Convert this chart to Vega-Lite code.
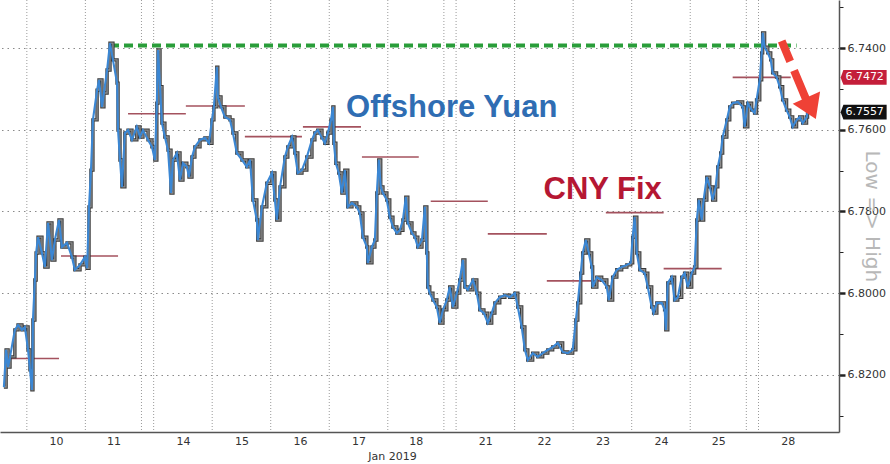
{
  "$schema": "https://vega.github.io/schema/vega-lite/v6.json",
  "width": 839,
  "height": 432,
  "autosize": {"type": "none"},
  "padding": {"left": 0, "top": 0, "right": 51, "bottom": 32},
  "background": "white",
  "config": {"view": {"stroke": null}, "font": "DejaVu Sans"},
  "datasets": {
    "sessions": [
      {"hour": 11}, {"hour": 35}, {"hour": 58}, {"hour": 63}, {"hour": 87}, {"hour": 111},
      {"hour": 135}, {"hour": 159}, {"hour": 182}, {"hour": 187}, {"hour": 211}, {"hour": 235},
      {"hour": 259}, {"hour": 283}, {"hour": 306}, {"hour": 311}
    ],
    "fix": [
      {"hour": 2.0, "hour_end": 24.2, "rate": 6.8160},
      {"hour": 25.0, "hour_end": 48.4, "rate": 6.7909},
      {"hour": 52.5, "hour_end": 76.2, "rate": 6.7561},
      {"hour": 76.2, "hour_end": 100.4, "rate": 6.7542},
      {"hour": 100.4, "hour_end": 123.8, "rate": 6.7617},
      {"hour": 124.2, "hour_end": 148.0, "rate": 6.7593},
      {"hour": 148.4, "hour_end": 171.7, "rate": 6.7667},
      {"hour": 176.6, "hour_end": 200.0, "rate": 6.7775},
      {"hour": 200.0, "hour_end": 224.2, "rate": 6.7855},
      {"hour": 224.2, "hour_end": 248.0, "rate": 6.7970},
      {"hour": 248.4, "hour_end": 272.1, "rate": 6.7803},
      {"hour": 272.1, "hour_end": 295.9, "rate": 6.7940},
      {"hour": 300.4, "hour_end": 324.2, "rate": 6.7472}
    ],
    "ceiling": [{"hour": 45.1, "hour_end": 326.6, "rate": 6.7394}],
    "cnh": [
      {"hour": 1.6, "rate": 6.8230}, {"hour": 2.5, "rate": 6.8139}, {"hour": 3.3, "rate": 6.8181},
      {"hour": 4.1, "rate": 6.8156}, {"hour": 6.1, "rate": 6.8090}, {"hour": 7.4, "rate": 6.8078},
      {"hour": 9.0, "rate": 6.8090}, {"hour": 10.2, "rate": 6.8083}, {"hour": 11.5, "rate": 6.8139},
      {"hour": 12.3, "rate": 6.8188}, {"hour": 13.1, "rate": 6.8237}, {"hour": 13.5, "rate": 6.8066},
      {"hour": 14.3, "rate": 6.7968}, {"hour": 14.8, "rate": 6.7902}, {"hour": 15.6, "rate": 6.7863},
      {"hour": 17.2, "rate": 6.7902}, {"hour": 18.4, "rate": 6.7936}, {"hour": 19.7, "rate": 6.7828},
      {"hour": 21.3, "rate": 6.7919}, {"hour": 22.5, "rate": 6.7870}, {"hour": 24.2, "rate": 6.7821},
      {"hour": 25.4, "rate": 6.7887}, {"hour": 27.5, "rate": 6.7877}, {"hour": 29.5, "rate": 6.7912},
      {"hour": 30.7, "rate": 6.7943}, {"hour": 32.8, "rate": 6.7931}, {"hour": 34.8, "rate": 6.7912},
      {"hour": 35.7, "rate": 6.7939}, {"hour": 36.5, "rate": 6.7789}, {"hour": 37.3, "rate": 6.7699},
      {"hour": 38.1, "rate": 6.7576}, {"hour": 39.8, "rate": 6.7503}, {"hour": 40.6, "rate": 6.7478},
      {"hour": 41.8, "rate": 6.7544}, {"hour": 42.6, "rate": 6.7510}, {"hour": 43.9, "rate": 6.7454},
      {"hour": 45.1, "rate": 6.7388}, {"hour": 46.3, "rate": 6.7429}, {"hour": 48.0, "rate": 6.7486},
      {"hour": 48.4, "rate": 6.7601}, {"hour": 49.2, "rate": 6.7674}, {"hour": 50.0, "rate": 6.7740},
      {"hour": 51.2, "rate": 6.7608}, {"hour": 52.5, "rate": 6.7601}, {"hour": 54.1, "rate": 6.7625},
      {"hour": 56.1, "rate": 6.7593}, {"hour": 57.4, "rate": 6.7618}, {"hour": 58.6, "rate": 6.7601},
      {"hour": 60.7, "rate": 6.7625}, {"hour": 62.3, "rate": 6.7642}, {"hour": 63.5, "rate": 6.7674},
      {"hour": 64.3, "rate": 6.7535}, {"hour": 64.8, "rate": 6.7405}, {"hour": 65.6, "rate": 6.7495},
      {"hour": 66.4, "rate": 6.7584}, {"hour": 67.6, "rate": 6.7618}, {"hour": 68.9, "rate": 6.7650},
      {"hour": 70.1, "rate": 6.7755}, {"hour": 70.9, "rate": 6.7674}, {"hour": 72.5, "rate": 6.7657},
      {"hour": 73.8, "rate": 6.7723}, {"hour": 75.0, "rate": 6.7682}, {"hour": 76.6, "rate": 6.7691},
      {"hour": 77.5, "rate": 6.7716}, {"hour": 78.7, "rate": 6.7667}, {"hour": 79.9, "rate": 6.7642},
      {"hour": 82.0, "rate": 6.7625}, {"hour": 84.0, "rate": 6.7620}, {"hour": 85.7, "rate": 6.7633},
      {"hour": 86.9, "rate": 6.7576}, {"hour": 87.7, "rate": 6.7544}, {"hour": 88.9, "rate": 6.7447},
      {"hour": 89.3, "rate": 6.7520}, {"hour": 90.6, "rate": 6.7544}, {"hour": 92.2, "rate": 6.7569},
      {"hour": 94.3, "rate": 6.7576}, {"hour": 95.5, "rate": 6.7608}, {"hour": 97.1, "rate": 6.7657},
      {"hour": 99.2, "rate": 6.7674}, {"hour": 101.2, "rate": 6.7691}, {"hour": 102.5, "rate": 6.7674},
      {"hour": 103.7, "rate": 6.7772}, {"hour": 105.3, "rate": 6.7821}, {"hour": 105.7, "rate": 6.7870},
      {"hour": 107.4, "rate": 6.7789}, {"hour": 109.4, "rate": 6.7731}, {"hour": 111.5, "rate": 6.7706},
      {"hour": 112.7, "rate": 6.7772}, {"hour": 113.5, "rate": 6.7821}, {"hour": 114.8, "rate": 6.7740},
      {"hour": 116.8, "rate": 6.7667}, {"hour": 118.0, "rate": 6.7642}, {"hour": 119.7, "rate": 6.7618},
      {"hour": 120.9, "rate": 6.7657}, {"hour": 122.1, "rate": 6.7706}, {"hour": 123.8, "rate": 6.7699},
      {"hour": 125.8, "rate": 6.7667}, {"hour": 127.9, "rate": 6.7625}, {"hour": 129.1, "rate": 6.7608},
      {"hour": 130.3, "rate": 6.7601}, {"hour": 132.0, "rate": 6.7620}, {"hour": 133.2, "rate": 6.7633},
      {"hour": 134.4, "rate": 6.7608}, {"hour": 135.7, "rate": 6.7576}, {"hour": 136.5, "rate": 6.7544},
      {"hour": 136.9, "rate": 6.7633}, {"hour": 137.7, "rate": 6.7682}, {"hour": 138.9, "rate": 6.7706},
      {"hour": 140.2, "rate": 6.7755}, {"hour": 141.4, "rate": 6.7699}, {"hour": 142.6, "rate": 6.7789},
      {"hour": 144.3, "rate": 6.7779}, {"hour": 146.3, "rate": 6.7789}, {"hour": 147.5, "rate": 6.7804},
      {"hour": 148.8, "rate": 6.7863}, {"hour": 150.4, "rate": 6.7887}, {"hour": 150.8, "rate": 6.7926},
      {"hour": 152.5, "rate": 6.7887}, {"hour": 153.7, "rate": 6.7870}, {"hour": 154.5, "rate": 6.7755},
      {"hour": 155.3, "rate": 6.7674}, {"hour": 156.1, "rate": 6.7740}, {"hour": 157.0, "rate": 6.7755},
      {"hour": 158.6, "rate": 6.7772}, {"hour": 159.8, "rate": 6.7814}, {"hour": 161.1, "rate": 6.7838},
      {"hour": 162.7, "rate": 6.7853}, {"hour": 163.9, "rate": 6.7846}, {"hour": 165.2, "rate": 6.7821},
      {"hour": 166.4, "rate": 6.7765}, {"hour": 167.2, "rate": 6.7828}, {"hour": 168.9, "rate": 6.7853},
      {"hour": 170.1, "rate": 6.7863}, {"hour": 171.3, "rate": 6.7887}, {"hour": 173.0, "rate": 6.7870},
      {"hour": 174.2, "rate": 6.7789}, {"hour": 175.0, "rate": 6.7902}, {"hour": 175.4, "rate": 6.7985},
      {"hour": 176.2, "rate": 6.8000}, {"hour": 177.5, "rate": 6.8017}, {"hour": 179.1, "rate": 6.8034},
      {"hour": 180.3, "rate": 6.8073}, {"hour": 181.6, "rate": 6.8041}, {"hour": 183.2, "rate": 6.8017},
      {"hour": 184.4, "rate": 6.7985}, {"hour": 185.7, "rate": 6.8034}, {"hour": 187.3, "rate": 6.8000},
      {"hour": 188.5, "rate": 6.7968}, {"hour": 189.8, "rate": 6.7919}, {"hour": 190.6, "rate": 6.7985},
      {"hour": 191.8, "rate": 6.7992}, {"hour": 193.9, "rate": 6.7968}, {"hour": 195.5, "rate": 6.8000},
      {"hour": 196.7, "rate": 6.8041}, {"hour": 198.4, "rate": 6.8049}, {"hour": 200.0, "rate": 6.8073},
      {"hour": 201.6, "rate": 6.8049}, {"hour": 202.9, "rate": 6.8024}, {"hour": 204.9, "rate": 6.8010},
      {"hour": 207.0, "rate": 6.8005}, {"hour": 209.0, "rate": 6.8010}, {"hour": 211.1, "rate": 6.8000},
      {"hour": 212.3, "rate": 6.8034}, {"hour": 213.9, "rate": 6.8083}, {"hour": 215.2, "rate": 6.8139},
      {"hour": 216.4, "rate": 6.8164}, {"hour": 218.4, "rate": 6.8147}, {"hour": 220.5, "rate": 6.8156},
      {"hour": 222.5, "rate": 6.8147}, {"hour": 224.6, "rate": 6.8139}, {"hour": 226.6, "rate": 6.8132},
      {"hour": 228.7, "rate": 6.8122}, {"hour": 230.7, "rate": 6.8144}, {"hour": 232.8, "rate": 6.8147},
      {"hour": 234.8, "rate": 6.8139}, {"hour": 236.1, "rate": 6.8066}, {"hour": 236.9, "rate": 6.8024},
      {"hour": 238.1, "rate": 6.7951}, {"hour": 238.9, "rate": 6.7902}, {"hour": 240.2, "rate": 6.7870},
      {"hour": 241.4, "rate": 6.7902}, {"hour": 242.6, "rate": 6.7936}, {"hour": 243.0, "rate": 6.7985},
      {"hour": 244.7, "rate": 6.7961}, {"hour": 246.7, "rate": 6.7968}, {"hour": 248.8, "rate": 6.7985},
      {"hour": 249.6, "rate": 6.8017}, {"hour": 251.2, "rate": 6.7961}, {"hour": 252.9, "rate": 6.7943},
      {"hour": 254.9, "rate": 6.7936}, {"hour": 257.0, "rate": 6.7931}, {"hour": 258.6, "rate": 6.7926},
      {"hour": 259.4, "rate": 6.7863}, {"hour": 260.2, "rate": 6.7814}, {"hour": 261.1, "rate": 6.7902},
      {"hour": 262.3, "rate": 6.7943}, {"hour": 264.3, "rate": 6.7951}, {"hour": 265.6, "rate": 6.7985},
      {"hour": 267.2, "rate": 6.8034}, {"hour": 268.0, "rate": 6.8049}, {"hour": 269.3, "rate": 6.8024},
      {"hour": 271.3, "rate": 6.8024}, {"hour": 272.5, "rate": 6.8041}, {"hour": 273.0, "rate": 6.8090},
      {"hour": 273.8, "rate": 6.7975}, {"hour": 275.4, "rate": 6.7961}, {"hour": 276.6, "rate": 6.8017},
      {"hour": 277.9, "rate": 6.8010}, {"hour": 279.5, "rate": 6.7961}, {"hour": 280.7, "rate": 6.7951},
      {"hour": 282.0, "rate": 6.7985}, {"hour": 283.6, "rate": 6.7951}, {"hour": 284.8, "rate": 6.7936},
      {"hour": 285.7, "rate": 6.7821}, {"hour": 286.5, "rate": 6.7772}, {"hour": 287.7, "rate": 6.7821},
      {"hour": 288.5, "rate": 6.7772}, {"hour": 289.8, "rate": 6.7716}, {"hour": 291.0, "rate": 6.7740},
      {"hour": 292.2, "rate": 6.7772}, {"hour": 293.4, "rate": 6.7740}, {"hour": 294.3, "rate": 6.7691},
      {"hour": 295.5, "rate": 6.7657}, {"hour": 296.3, "rate": 6.7618}, {"hour": 298.0, "rate": 6.7576},
      {"hour": 299.2, "rate": 6.7544}, {"hour": 300.4, "rate": 6.7535}, {"hour": 302.5, "rate": 6.7532},
      {"hour": 304.5, "rate": 6.7544}, {"hour": 305.3, "rate": 6.7593}, {"hour": 306.6, "rate": 6.7535},
      {"hour": 308.2, "rate": 6.7552}, {"hour": 309.4, "rate": 6.7559}, {"hour": 310.2, "rate": 6.7527},
      {"hour": 311.5, "rate": 6.7478}, {"hour": 312.3, "rate": 6.7412}, {"hour": 312.7, "rate": 6.7363},
      {"hour": 313.5, "rate": 6.7398}, {"hour": 314.8, "rate": 6.7412}, {"hour": 316.0, "rate": 6.7429},
      {"hour": 316.8, "rate": 6.7461}, {"hour": 318.4, "rate": 6.7471}, {"hour": 319.7, "rate": 6.7495},
      {"hour": 320.9, "rate": 6.7527}, {"hour": 322.5, "rate": 6.7552}, {"hour": 323.8, "rate": 6.7569},
      {"hour": 325.0, "rate": 6.7593}, {"hour": 326.6, "rate": 6.7576}, {"hour": 327.9, "rate": 6.7569},
      {"hour": 329.1, "rate": 6.7584}, {"hour": 330.7, "rate": 6.7569}, {"hour": 331.1, "rate": 6.7557}
    ],
    "arrow": [{"hour": 320.5, "rate": 6.7383, "hour_end": 330.6, "rate_end": 6.7527}],
    "arrowhead": [{"hour": 332.0, "rate": 6.7540}],
    "fix_tag": [{"hour": 354.1, "rate": 6.7472, "label": "6.7472"}],
    "last_tag": [{"hour": 354.1, "rate": 6.7557, "label": "6.7557"}],
    "yuan_label": [{"hour": 185.2, "rate": 6.7568, "label": "Offshore Yuan"}],
    "fix_label": [{"hour": 247.1, "rate": 6.7770, "label": "CNY Fix"}],
    "direction": [{"hour": 357.6, "rate": 6.7812, "label": "Low => High"}]
  },
  "layer": [
    {
      "data": {"name": "sessions"},
      "mark": {"type": "rule", "color": "#9a9a9a", "strokeWidth": 1, "strokeDash": [1, 2]},
      "encoding": {
        "x": {
          "field": "hour",
          "type": "quantitative",
          "scale": {"domain": [0, 344], "nice": false, "zero": false},
          "axis": {
            "values": [23, 46.5, 75, 99, 123, 147, 170.5, 199, 223, 247, 271, 294.5, 323],
            "labelExpr": "'' + [10, 11, 14, 15, 16, 17, 18, 21, 22, 23, 24, 25, 28][indexof([23, 46.5, 75, 99, 123, 147, 170.5, 199, 223, 247, 271, 294.5, 323], datum.value)]",
            "ticks": false,
            "grid": false,
            "domainColor": "#555555",
            "domainWidth": 1.5,
            "labelFont": "DejaVu Sans",
            "labelFontSize": 11,
            "labelColor": "#333333",
            "labelPadding": 3,
            "labelFlush": false,
            "labelOverlap": false,
            "title": "Jan 2019",
            "titleFont": "DejaVu Sans",
            "titleFontSize": 11,
            "titleFontWeight": "normal",
            "titleColor": "#333333",
            "titleX": 392,
            "titleY": 24,
            "titleAlign": "center",
            "titleBaseline": "middle"
          }
        }
      }
    },
    {
      "data": {"name": "fix"},
      "mark": {"type": "rule", "color": "#a4525e", "strokeWidth": 1.6},
      "encoding": {
        "x": {"field": "hour", "type": "quantitative"},
        "x2": {"field": "hour_end"},
        "y": {
          "field": "rate",
          "type": "quantitative",
          "scale": {"domain": [6.72825, 6.834], "reverse": true, "nice": false, "zero": false},
          "axis": {
            "orient": "right",
            "values": [6.73, 6.74, 6.75, 6.76, 6.77, 6.78, 6.79, 6.8, 6.81, 6.82, 6.83],
            "labelExpr": "round(datum.value * 100) % 2 == 1 ? '' : format(datum.value, '.4f')",
            "grid": true,
            "gridColor": "#8a8a8a",
            "gridDash": [1.5, 4],
            "gridOpacity": {"condition": {"test": "round(datum.value * 100) % 2 == 1", "value": 0}, "value": 1},
            "tickColor": "#222222",
            "tickSize": {"condition": {"test": "round(datum.value * 100) % 2 == 1", "value": 4}, "value": 6},
            "tickWidth": {"condition": {"test": "round(datum.value * 100) % 2 == 1", "value": 1}, "value": 2.5},
            "domainColor": "#555555",
            "domainWidth": 1.5,
            "labelFont": "DejaVu Sans",
            "labelFontSize": 11,
            "labelColor": "#333333",
            "labelPadding": 2,
            "title": null
          }
        }
      }
    },
    {
      "data": {"name": "ceiling"},
      "mark": {"type": "rule", "color": "#2a9d3a", "strokeWidth": 4, "strokeDash": [9, 5]},
      "encoding": {
        "x": {"field": "hour", "type": "quantitative"},
        "x2": {"field": "hour_end"},
        "y": {"field": "rate", "type": "quantitative"}
      }
    },
    {
      "data": {"name": "cnh"},
      "mark": {"type": "line", "interpolate": "step-after", "color": "#3a3a3a", "strokeWidth": 3.4},
      "encoding": {
        "x": {"field": "hour", "type": "quantitative"},
        "y": {"field": "rate", "type": "quantitative"}
      }
    },
    {
      "data": {"name": "cnh"},
      "mark": {"type": "line", "interpolate": "step-after", "color": "#8c8c8c", "strokeWidth": 1.4},
      "encoding": {
        "x": {"field": "hour", "type": "quantitative"},
        "y": {"field": "rate", "type": "quantitative"}
      }
    },
    {
      "data": {"name": "cnh"},
      "mark": {"type": "line", "color": "#3b87d4", "strokeWidth": 2.1},
      "encoding": {
        "x": {"field": "hour", "type": "quantitative"},
        "y": {"field": "rate", "type": "quantitative"}
      }
    },
    {
      "data": {"name": "arrow"},
      "mark": {"type": "rule", "color": "#ef4136", "strokeWidth": 8, "strokeDash": [22, 10, 40]},
      "encoding": {
        "x": {"field": "hour", "type": "quantitative"},
        "y": {"field": "rate", "type": "quantitative"},
        "x2": {"field": "hour_end"},
        "y2": {"field": "rate_end"}
      }
    },
    {
      "data": {"name": "arrowhead"},
      "mark": {"type": "point", "shape": "M-1,-0.55L1,-0.55L0,1Z", "size": 900, "angle": -24, "filled": true, "color": "#ef4136", "opacity": 1},
      "encoding": {
        "x": {"field": "hour", "type": "quantitative"},
        "y": {"field": "rate", "type": "quantitative"}
      }
    },
    {
      "data": {"name": "direction"},
      "mark": {"type": "text", "angle": 90, "align": "center", "baseline": "middle", "font": "DejaVu Sans", "fontSize": 20, "color": "#b8b8b8"},
      "encoding": {
        "x": {"field": "hour", "type": "quantitative"},
        "y": {"field": "rate", "type": "quantitative"},
        "text": {"field": "label"}
      }
    },
    {
      "data": {"name": "fix_tag"},
      "mark": {"type": "point", "shape": "M-1,0L-0.88,-0.32H1V0.32H-0.88Z", "size": 2116, "filled": true, "color": "#c41e3a", "opacity": 1},
      "encoding": {
        "x": {"field": "hour", "type": "quantitative"},
        "y": {"field": "rate", "type": "quantitative"}
      }
    },
    {
      "data": {"name": "last_tag"},
      "mark": {"type": "point", "shape": "M-1,0L-0.88,-0.32H1V0.32H-0.88Z", "size": 2116, "filled": true, "color": "#111111", "opacity": 1},
      "encoding": {
        "x": {"field": "hour", "type": "quantitative"},
        "y": {"field": "rate", "type": "quantitative"}
      }
    },
    {
      "data": {"name": "fix_tag"},
      "mark": {"type": "text", "align": "center", "baseline": "middle", "dx": 1, "font": "DejaVu Sans", "fontSize": 11, "color": "white"},
      "encoding": {
        "x": {"field": "hour", "type": "quantitative"},
        "y": {"field": "rate", "type": "quantitative"},
        "text": {"field": "label"}
      }
    },
    {
      "data": {"name": "last_tag"},
      "mark": {"type": "text", "align": "center", "baseline": "middle", "dx": 1, "font": "DejaVu Sans", "fontSize": 11, "color": "white"},
      "encoding": {
        "x": {"field": "hour", "type": "quantitative"},
        "y": {"field": "rate", "type": "quantitative"},
        "text": {"field": "label"}
      }
    },
    {
      "data": {"name": "yuan_label"},
      "mark": {"type": "text", "align": "center", "baseline": "alphabetic", "font": "Liberation Sans", "fontWeight": "bold", "fontSize": 31, "color": "#2f6db3"},
      "encoding": {
        "x": {"field": "hour", "type": "quantitative"},
        "y": {"field": "rate", "type": "quantitative"},
        "text": {"field": "label"}
      }
    },
    {
      "data": {"name": "fix_label"},
      "mark": {"type": "text", "align": "center", "baseline": "alphabetic", "font": "Liberation Sans", "fontWeight": "bold", "fontSize": 31, "color": "#b51733"},
      "encoding": {
        "x": {"field": "hour", "type": "quantitative"},
        "y": {"field": "rate", "type": "quantitative"},
        "text": {"field": "label"}
      }
    }
  ]
}
